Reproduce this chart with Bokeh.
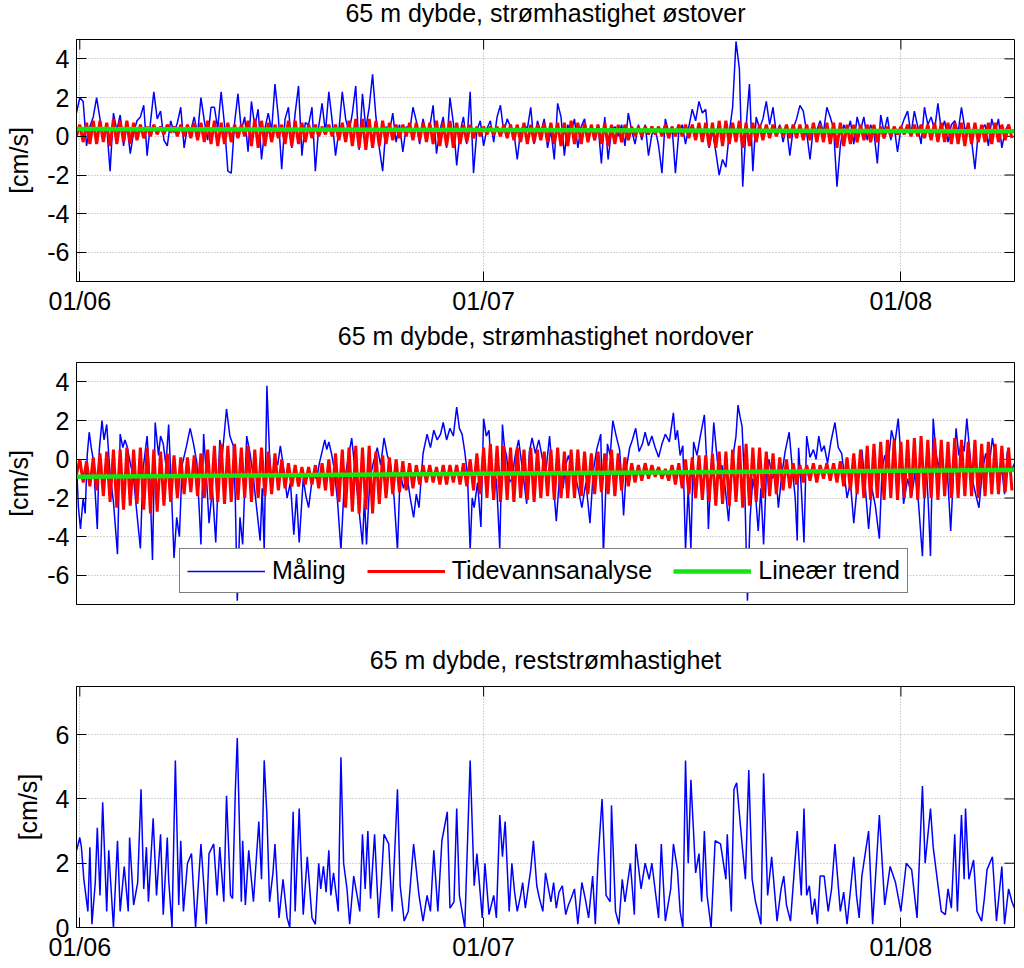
import numpy as np
from bokeh.plotting import figure
from bokeh.layouts import column
from bokeh.models import Range1d, FixedTicker, DatetimeTickFormatter, Legend, LegendItem
from bokeh.embed import file_html
from bokeh.resources import INLINE

FONT = "Liberation Sans"

# ---------------- text / categories ----------------
titles = ["65 m dybde, strømhastighet østover",
          "65 m dybde, strømhastighet nordover",
          "65 m dybde, reststrømhastighet"]
y_label = "[cm/s]"
legend_labels = ["Måling", "Tidevannsanalyse", "Lineær trend"]
date_ticks = ["2010-06-01", "2010-07-01", "2010-08-01"]
uv_ticks = [-6, -4, -2, 0, 2, 4]
res_ticks = [0, 2, 4, 6]

# time axis (days after 01/06)
x_start_day, x_end_day = -0.245, 69.44
grid_start_day, grid_step_days = -0.25, 0.25   # 6-hourly sampling grid

# ---------------- panel 1: eastward ----------------
east_meas = [1.2,
    2.0, 1.8, -0.5, 0.5,   1.0, 2.0, 0.9, -0.2,   0.5, -1.8, 1.2, 0.3,   1.1, -0.5, 0.6, -0.9,
    0.2, 0.8, 1.0, 1.6,   -1.0, 0.7, 2.3, 0.9,    1.3, -0.2, -0.5, 0.8,  0.2, 0.7, 1.5, -0.6,
    0.5, 0.3, 1.0, 0.1,    2.0, 0.8, -0.2, 1.5,   1.5, 0.4, 2.3, 0.6,   -1.8, -1.9, 0.7, 2.2,
    0.3, 1.0, -0.8, 1.8,   0.5, 1.4, -1.2, 0.4,   1.2, 0.3, 2.7, 1.0,   -1.7, 0.9, 1.5, -0.6,
    1.2, 2.6, -1.0, 0.7,   0.6, 1.5, -1.8, 0.5,   1.7, 0.2, 2.3, 0.8,   -1.0, 0.3, 2.3, 0.9,
    0.2, 1.2, 2.6, -0.7,   2.2, 0.4, 1.5, 3.2,    1.0, -0.6, -1.8, 0.5,  0.2, 1.2, -0.3, 0.6,
    -0.8, 0.5, 0.2, 1.5,   0.8, -0.4, 0.9, 0.1,   0.5, 1.6, -0.9, 0.3,   1.0, -0.6, 2.0, 0.7,
    -1.5, 0.2, 1.0, -0.4,  2.3, -1.9, 0.3, 0.8,   -0.5, 0.4, 0.8, -0.3,  1.0, 1.6, 0.2, 0.9,
    0.5, 0.2, -1.2, 0.3,   0.6, 0.4, 1.5, -0.4,   0.8, 0.2, 0.9, -0.6,   0.3, -1.2, 1.7, 1.0,
    -1.0, 0.6, 0.2, 0.9,   -0.6, 0.5, 0.9, -0.3,  0.4, -0.2, 0.6, -1.4,  1.0, -1.2, 0.3, 0.5,
    0.0, 0.6, -0.5, 1.2,   0.3, -0.4, 0.6, -0.2,  0.6, -1.0, 0.1, 0.4,   -0.5, -1.9, 0.9, 0.2,
    0.5, -1.9, 0.2, 0.6,   -0.4, 0.5, 1.4, 0.8,   1.8, 1.2, 1.4, -0.6,   0.3, -0.8, -2.0, -1.2,
    -1.6, 0.2, 1.5, 4.9,   3.5, -2.6, 0.5, 2.7,   -1.8, 1.0, 0.4, 0.9,   1.8, 0.6, 1.5, 0.1,
    0.6, -0.3, 0.5, -1.0,  0.4, 0.9, 1.6, 1.3,    0.2, -1.2, 0.5, 0.3,   0.8, 0.2, 1.5, 1.0,
    0.4, -2.6, -0.5, 0.6,  0.2, 0.8, -0.4, 1.0,   0.3, 1.0, -0.2, 0.6,   0.2, -1.4, 1.1, 0.2,
    1.0, -0.2, 0.5, -0.8,  0.4, 0.9, 1.3, 0.1,    1.3, 0.5, -0.4, 1.5,   0.6, 1.0, 0.3, 1.7,
    0.3, 0.8, -0.3, 0.6,   0.8, 0.2, 1.5, 0.4,    0.4, -0.2, -1.7, 0.2,  0.4, 0.6, -0.5, 0.9,
    0.2, 0.9, -0.6, 0.3,
    0.6, 0.2]

east_tide = [0.0,
    0.6, -0.3, 0.7, -0.4,  0.8, -0.4, 0.8, -0.3,   0.7, -0.5, 0.9, -0.4,  0.8, -0.3, 0.8, -0.4,
    0.7, -0.2, 0.6, -0.1,  0.5, 0.0, 0.6, 0.1,     0.5, 0.1, 0.6, 0.2,    0.5, 0.0, 0.6, 0.0,
    0.6, -0.1, 0.7, -0.2,  0.7, -0.3, 0.8, -0.4,   0.8, -0.5, 0.7, -0.4,  0.7, -0.3, 0.6, -0.1,
    0.6, 0.0, 0.8, -0.5,   0.9, -0.6, 0.8, -0.5,   0.7, -0.3, 0.6, -0.1,  0.6, -0.4, 0.8, -0.5,
    0.8, -0.4, 0.7, -0.3,  0.6, -0.1, 0.6, 0.0,    0.5, 0.1, 0.6, 0.0,    0.6, -0.2, 0.7, -0.3,
    0.8, -0.5, 0.9, -0.6,  0.9, -0.7, 0.9, -0.6,   0.8, -0.5, 0.8, -0.4,  0.7, -0.2, 0.6, -0.1,
    0.6, 0.0, 0.7, -0.2,   0.7, -0.2, 0.7, -0.3,   0.7, -0.4, 0.8, -0.5,  0.7, -0.5, 0.8, -0.6,
    0.7, -0.4, 0.6, -0.3,  0.6, -0.1, 0.5, 0.0,    0.5, 0.1, 0.5, 0.1,    0.5, 0.0, 0.6, -0.1,
    0.6, -0.2, 0.6, -0.3,  0.7, -0.4, 0.6, -0.3,   0.6, -0.2, 0.7, -0.3,  0.7, -0.4, 0.7, -0.5,
    0.7, -0.5, 0.8, -0.4,  0.7, -0.4, 0.7, -0.3,   0.6, -0.2, 0.6, -0.4,  0.7, -0.5, 0.6, -0.4,
    0.6, -0.3, 0.6, -0.2,  0.5, 0.0, 0.5, 0.0,     0.5, 0.1, 0.5, 0.1,    0.5, 0.0, 0.6, -0.1,
    0.5, 0.0, 0.6, 0.0,    0.6, -0.1, 0.6, -0.2,   0.7, -0.3, 0.7, -0.5,  0.7, -0.6, 0.8, -0.5,
    0.8, -0.4, 0.7, -0.3,  0.8, -0.6, 0.7, -0.5,   0.7, -0.3, 0.6, -0.2,  0.6, -0.1, 0.6, 0.0,
    0.5, 0.0, 0.6, -0.1,   0.6, -0.1, 0.6, -0.2,   0.6, -0.2, 0.7, -0.3,  0.6, -0.3, 0.7, -0.4,
    0.7, -0.6, 0.7, -0.5,  0.6, -0.4, 0.6, -0.3,   0.6, -0.2, 0.6, -0.3,  0.6, -0.3, 0.5, -0.1,
    0.5, 0.0, 0.5, 0.1,    0.5, 0.1, 0.6, 0.0,     0.6, 0.0, 0.6, -0.1,   0.6, -0.2, 0.7, -0.3,
    0.7, -0.3, 0.7, -0.4,  0.7, -0.4, 0.7, -0.5,   0.7, -0.4, 0.7, -0.3,  0.6, -0.3, 0.7, -0.4,
    0.7, -0.3, 0.6, -0.2,
    0.6, -0.1]

east_trend = [0.38, 0.26]   # value at left and right edge

# ---------------- panel 2: northward ----------------
north_meas = [  # (day after 01/06, cm/s)
    (-0.24, -0.3), (-0.1, -2.5), (0.05, -3.6), (0.25, -2.0), (0.4, -2.8), (0.55, 0.2), (0.7, 1.4),
    (0.85, 0.6), (1.0, 0.0), (1.15, -1.8), (1.3, -3.6), (1.45, 0.5), (1.65, 2.0), (1.8, 1.0),
    (2.0, 1.8), (2.25, -0.8), (2.5, -2.2), (2.8, -4.9), (3.0, 1.3), (3.2, 0.6), (3.35, 1.0),
    (3.5, 0.7), (3.75, -0.2), (4.0, -1.0), (4.2, -2.5), (4.5, -4.6), (4.7, -0.5), (5.0, 1.2),
    (5.2, -1.0), (5.4, -5.2), (5.6, 1.9), (5.85, 0.2), (6.0, 1.2), (6.2, 0.8), (6.4, -0.3),
    (6.6, 1.8), (6.8, -1.5), (7.0, -5.1), (7.2, -3.0), (7.4, -4.0), (7.6, -0.3), (7.9, 0.6),
    (8.2, 1.6), (8.45, 0.8), (8.7, -0.2), (9.0, -4.4), (9.2, 1.3), (9.4, -0.8), (9.6, -3.3),
    (9.85, -1.5), (10.1, -4.3), (10.4, 1.0), (10.6, 0.3), (10.9, 2.6), (11.15, 1.2), (11.4, 0.7),
    (11.55, -2.0), (11.7, -7.3), (11.9, -3.0), (12.1, -4.4), (12.4, 1.2), (12.65, 0.3),
    (12.9, -1.0), (13.15, -2.6), (13.4, -4.2), (13.55, -1.5), (13.7, -4.7), (13.9, 3.8),
    (14.1, 0.2), (14.3, -1.5), (14.5, 0.1), (14.7, -0.3), (14.9, 0.7), (15.15, -0.5),
    (15.4, -2.0), (15.65, -1.2), (15.9, -3.9), (16.1, -1.8), (16.3, -4.3), (16.6, -1.0),
    (16.8, -1.9), (17.0, -2.5), (17.3, -0.8), (17.6, -1.0), (17.8, -0.2), (18.0, 0.4),
    (18.2, 1.0), (18.35, 0.5), (18.5, 0.9), (18.7, 0.3), (18.9, -0.5), (19.15, -2.2),
    (19.4, -4.7), (19.65, -1.2), (19.9, -0.1), (20.2, 1.1), (20.45, -0.6), (20.7, -2.3),
    (21.0, -4.4), (21.15, -2.0), (21.3, -4.4), (21.55, -1.0), (21.8, -0.2), (22.1, 0.6),
    (22.35, -0.3), (22.6, 1.1), (22.85, 0.2), (23.1, -0.3), (23.35, -2.0), (23.6, -4.7),
    (23.8, -0.7), (24.05, -1.5), (24.3, -0.8), (24.55, -2.0), (24.8, -3.0), (25.0, -1.8),
    (25.2, -2.5), (25.5, 0.3), (25.8, 1.3), (26.05, 0.6), (26.3, 1.5), (26.55, 1.0),
    (26.8, 1.3), (27.0, 1.9), (27.25, 1.0), (27.5, 1.6), (27.75, 1.2), (28.0, 2.7), (28.2, 1.6),
    (28.4, 1.3), (28.6, 0.4), (28.8, -0.8), (29.0, -4.7), (29.15, -2.0), (29.3, -2.5),
    (29.55, -1.2), (29.8, -3.5), (30.0, 2.1), (30.2, 1.2), (30.4, 1.5), (30.55, -0.4),
    (30.7, -2.0), (30.95, -1.0), (31.2, -4.6), (31.4, 1.8), (31.55, 0.6), (31.7, 0.2),
    (31.9, -1.2), (32.1, -1.0), (32.35, 0.2), (32.6, 1.0), (32.9, -0.6), (33.2, -2.3),
    (33.4, 0.4), (33.6, 1.1), (33.85, 0.3), (34.1, 1.0), (34.35, 0.1), (34.6, -0.8), (34.9, 1.2),
    (35.15, -1.0), (35.4, -3.2), (35.65, -0.8), (35.9, -1.5), (36.1, -0.3), (36.3, 0.2),
    (36.55, -0.5), (36.8, -0.8), (37.05, -1.6), (37.3, -2.5), (37.6, -1.2), (37.9, -3.3),
    (38.15, -0.6), (38.4, 0.5), (38.7, 1.3), (38.9, -4.9), (39.2, 0.8), (39.4, 0.2), (39.6, 2.0),
    (39.85, 1.2), (40.1, 0.5), (40.25, -1.0), (40.4, -2.9), (40.6, -0.5), (40.85, 0.6),
    (41.05, 1.0), (41.3, 1.6), (41.55, 0.4), (41.8, 0.8), (42.0, 1.4), (42.25, 0.7), (42.5, 1.2),
    (42.75, 0.6), (43.0, 0.1), (43.25, 0.8), (43.5, 1.3), (43.8, 0.9), (44.1, 2.4), (44.25, 1.0),
    (44.4, 1.5), (44.6, 0.2), (44.8, 0.7), (45.0, -4.7), (45.2, -1.5), (45.4, -4.6), (45.6, 0.9),
    (45.85, 0.2), (46.1, 1.2), (46.4, 2.3), (46.55, 0.2), (46.7, -3.6), (46.9, -0.5), (47.1, 1.9),
    (47.3, 0.4), (47.5, -1.0), (47.7, -0.3), (47.95, -1.5), (48.2, -3.2), (48.4, -1.0),
    (48.6, 0.5), (48.75, 1.2), (48.9, 2.8), (49.05, 2.2), (49.2, 1.7), (49.4, -1.5), (49.6, -7.3),
    (49.8, -3.0), (50.0, -1.0), (50.2, -1.8), (50.4, -3.7), (50.6, -1.5), (50.8, -4.4),
    (51.0, -0.8), (51.2, 0.0), (51.45, -1.0), (51.7, -0.6), (51.9, -2.5), (52.15, -0.8),
    (52.4, 0.4), (52.7, 1.4), (52.95, -0.6), (53.15, -2.0), (53.3, -4.2), (53.4, 0.6),
    (53.6, -1.5), (53.8, -4.3), (54.0, 1.2), (54.25, 0.1), (54.5, 0.5), (54.7, 0.0), (54.9, 1.2),
    (55.1, 0.4), (55.3, 0.7), (55.55, -0.2), (55.8, 0.9), (56.1, 1.9), (56.35, 0.6), (56.6, 0.3),
    (56.8, -0.8), (57.0, -2.0), (57.25, -1.2), (57.5, -3.3), (57.8, -1.0), (58.1, 0.5),
    (58.35, -1.4), (58.6, -3.6), (58.85, -1.5), (59.1, -2.4), (59.4, -4.1), (59.6, -0.5),
    (59.8, 0.2), (60.05, -0.3), (60.3, 1.5), (60.55, 0.8), (60.8, 2.1), (61.0, 0.2), (61.2, -2.3),
    (61.5, -1.0), (61.8, -1.9), (62.05, -0.7), (62.3, -2.2), (62.6, -5.0), (62.75, -2.0),
    (62.9, -0.5), (63.05, -2.5), (63.2, -5.0), (63.4, 2.1), (63.6, 0.4), (63.8, -0.5), (64.0, 0.6),
    (64.2, -1.2), (64.45, -0.6), (64.7, -3.7), (64.9, -0.8), (65.1, 1.6), (65.3, 0.2), (65.5, 0.9),
    (65.7, 0.4), (65.9, 2.1), (66.1, 0.5), (66.3, -1.0), (66.55, -1.8), (66.8, -2.5),
    (67.05, -0.6), (67.3, 0.3), (67.55, -0.4), (67.8, 1.1), (68.05, 0.0), (68.3, -1.0),
    (68.5, -0.5), (68.7, -1.8), (68.9, 0.4), (69.1, -0.2), (69.2, -0.6), (69.44, -0.2)]

north_tide = [-0.8,
    0.0, -1.2, -0.1, -1.4,   0.1, -1.6, 0.3, -1.9,    0.4, -2.2, 0.5, -2.5,    0.5, -2.6, 0.6, -2.4,
    0.5, -2.3, 0.6, -2.6,    0.6, -2.8, 0.5, -2.7,    0.4, -2.4, 0.3, -2.2,    0.2, -2.0, 0.1, -1.8,
    0.1, -1.7, 0.2, -1.9,    0.3, -2.0, 0.5, -2.1,    0.7, -2.2, 0.8, -2.3,    0.7, -2.2, 0.8, -2.1,
    0.6, -2.0, 0.7, -2.2,    0.5, -2.0, 0.6, -1.9,    0.4, -1.8, 0.3, -1.6,    0.0, -1.5, -0.2, -1.4,
    -0.3, -1.4, -0.4, -1.3,  -0.4, -1.3, -0.3, -1.5,  -0.2, -1.6, 0.0, -1.9,   0.3, -2.2, 0.5, -2.5,
    0.6, -2.7, 0.7, -2.8,    0.6, -2.6, 0.7, -2.8,    0.4, -2.3, 0.2, -2.0,    0.1, -1.8, 0.0, -1.7,
    -0.1, -1.6, -0.2, -1.5,  -0.3, -1.3, -0.3, -1.2,  -0.3, -1.2, -0.4, -1.3,  -0.3, -1.3, -0.3, -1.2,
    -0.3, -1.3, -0.2, -1.4,  0.0, -1.6, 0.3, -1.8,    0.6, -2.0, 0.8, -2.1,    0.7, -2.2, 0.7, -2.1,
    0.6, -2.2, 0.6, -2.0,    0.5, -2.1, 0.6, -2.2,    0.5, -2.0, 0.4, -1.9,    0.5, -2.1, 0.6, -2.0,
    0.4, -2.0, 0.5, -2.0,    0.5, -1.9, 0.4, -1.8,    0.3, -1.8, 0.4, -1.7,    0.3, -1.8, 0.5, -1.9,
    0.3, -1.6, 0.1, -1.4,    -0.2, -1.2, -0.3, -1.1,  -0.2, -1.0, -0.3, -0.9,  -0.4, -1.0, -0.5, -1.1,
    -0.3, -1.3, -0.2, -1.5,  0.0, -1.8, 0.1, -2.0,    0.2, -2.1, 0.2, -2.2,    0.3, -2.4, 0.4, -2.3,
    0.4, -2.4, 0.5, -2.2,    0.7, -2.5, 0.8, -2.4,    0.6, -2.2, 0.6, -2.0,    0.4, -1.9, 0.3, -1.8,
    0.1, -1.6, 0.0, -1.5,    -0.2, -1.3, -0.3, -1.2,  -0.3, -1.1, -0.2, -1.2,  -0.3, -1.0, -0.2, -1.1,
    -0.2, -1.2, -0.1, -1.4,  0.1, -1.6, 0.3, -1.8,    0.5, -2.0, 0.7, -2.1,    0.8, -2.0, 0.9, -2.1,
    1.0, -2.0, 1.0, -2.1,    0.9, -2.0, 1.0, -2.0,    1.1, -2.1, 1.2, -2.0,    1.0, -2.0, 1.1, -2.1,
    1.0, -1.9, 0.9, -2.0,    1.1, -2.0, 1.0, -1.9,    0.9, -1.9, 1.0, -2.0,    0.8, -1.9, 0.9, -1.8,
    0.8, -1.8, 0.7, -1.7,
    0.6, -1.6]

north_trend = [-0.90, -0.55]

# ---------------- panel 3: residual speed ----------------
resid_meas = [  # (day after 01/06, cm/s)
    (-0.24, 2.4), (0.0, 2.8), (0.12, 2.5), (0.3, 1.5), (0.6, 0.5), (0.75, 2.5), (0.9, 0.1),
    (1.15, 1.4), (1.3, 3.1), (1.5, 1.0), (1.7, 3.9), (2.0, 0.5), (2.15, 2.4), (2.5, 0.0),
    (2.8, 2.7), (3.0, 0.5), (3.3, 1.9), (3.6, 0.5), (3.7, 2.8), (4.0, 0.7), (4.3, 1.4),
    (4.55, 4.3), (4.75, 1.2), (4.95, 2.5), (5.1, 0.8), (5.45, 3.4), (5.7, 1.0), (6.0, 2.9),
    (6.2, 0.4), (6.5, 2.8), (6.6, 1.5), (6.85, 0.0), (7.1, 5.2), (7.35, 0.7), (7.5, 2.7),
    (7.7, 0.5), (8.0, 2.0), (8.3, 2.3), (8.6, 0.0), (9.0, 2.6), (9.2, 1.4), (9.4, 0.1), (9.6, 2.3),
    (9.95, 2.6), (10.2, 1.0), (10.4, 2.5), (10.7, 0.8), (10.9, 4.1), (11.2, 1.0), (11.35, 0.9),
    (11.55, 4.2), (11.7, 5.9), (12.0, 0.8), (12.1, 2.7), (12.3, 0.7), (12.55, 2.4), (12.9, 0.8),
    (13.3, 3.3), (13.5, 1.5), (13.7, 5.2), (13.9, 3.5), (14.1, 0.8), (14.35, 1.7), (14.5, 2.6),
    (14.8, 0.3), (15.1, 1.5), (15.4, 0.3), (15.6, 0.0), (15.85, 3.6), (16.0, 0.5), (16.3, 3.7),
    (16.6, 0.4), (16.9, 2.2), (17.25, 0.3), (17.5, 0.1), (17.75, 2.0), (17.9, 1.2), (18.1, 1.9),
    (18.3, 1.1), (18.5, 2.4), (18.65, 1.0), (18.85, 1.7), (19.2, 0.5), (19.4, 5.3), (19.6, 2.0),
    (19.85, 1.2), (20.05, 0.1), (20.35, 1.6), (20.6, 1.0), (20.8, 0.5), (21.0, 2.9), (21.2, 1.2),
    (21.4, 3.0), (21.6, 0.9), (21.9, 2.9), (22.2, 0.3), (22.4, 1.4), (22.6, 2.9), (22.95, 2.6),
    (23.2, 0.5), (23.6, 4.3), (23.8, 1.3), (24.1, 0.2), (24.4, 0.5), (24.8, 2.6), (25.2, 1.0),
    (25.5, 0.2), (25.8, 1.0), (26.05, 0.5), (26.3, 2.4), (26.6, 0.5), (26.9, 2.7), (27.3, 3.6),
    (27.5, 0.6), (27.8, 0.8), (28.0, 3.7), (28.2, 1.0), (28.6, 0.0), (29.0, 5.2), (29.3, 1.3),
    (29.5, 2.3), (29.9, 0.3), (30.1, 2.0), (30.4, 0.4), (30.75, 1.0), (30.95, 0.3), (31.2, 3.5),
    (31.4, 2.2), (31.6, 3.3), (31.9, 0.5), (32.1, 2.0), (32.3, 1.1), (32.5, 0.5), (32.75, 1.0),
    (32.9, 1.4), (33.1, 0.6), (33.5, 1.8), (33.7, 2.7), (33.95, 1.3), (34.15, 0.9), (34.4, 0.5),
    (34.6, 1.7), (35.0, 0.8), (35.2, 1.4), (35.4, 0.6), (35.6, 1.1), (35.85, 1.3), (36.1, 0.4),
    (36.3, 0.7), (36.5, 0.9), (36.75, 1.2), (37.0, 0.1), (37.3, 1.4), (37.55, 0.9), (37.8, 0.3),
    (38.1, 1.6), (38.3, 0.1), (38.5, 2.1), (38.8, 4.0), (39.1, 1.0), (39.4, 0.8), (39.5, 3.8),
    (39.8, 0.5), (40.05, 0.1), (40.3, 1.5), (40.5, 0.8), (40.9, 2.0), (41.2, 0.4), (41.3, 2.6),
    (41.7, 1.2), (42.0, 2.0), (42.3, 1.5), (42.5, 2.0), (43.0, 0.3), (43.2, 2.6), (43.5, 0.2),
    (43.9, 1.2), (44.1, 2.6), (44.4, 1.8), (44.6, 0.5), (44.8, 0.0), (45.0, 5.2), (45.2, 2.0),
    (45.4, 4.6), (45.75, 1.7), (46.0, 2.3), (46.2, 0.8), (46.4, 3.0), (46.6, 1.0), (46.9, 0.0),
    (47.2, 2.7), (47.6, 2.6), (48.0, 1.5), (48.1, 2.9), (48.4, 0.5), (48.6, 4.3), (48.8, 4.5),
    (49.2, 2.6), (49.45, 1.5), (49.7, 4.9), (49.95, 1.5), (50.2, 0.8), (50.6, 0.1), (50.8, 4.8),
    (51.1, 1.0), (51.4, 2.2), (51.8, 0.2), (52.1, 1.2), (52.3, 1.6), (52.5, 0.7), (52.8, 0.2),
    (53.3, 3.0), (53.6, 1.0), (53.8, 3.7), (54.0, 1.0), (54.2, 1.3), (54.4, 0.4), (54.6, 0.9),
    (54.8, 0.1), (55.0, 1.6), (55.3, 1.6), (55.6, 0.5), (55.85, 1.2), (56.1, 2.6), (56.5, 0.5),
    (56.75, 1.1), (57.0, 0.1), (57.5, 2.2), (57.7, 1.0), (57.9, 0.3), (58.1, 1.6), (58.6, 3.0),
    (58.9, 0.1), (59.4, 3.5), (59.8, 0.7), (60.2, 1.9), (60.6, 1.4), (61.0, 0.5), (61.4, 2.0),
    (61.8, 1.8), (62.2, 0.3), (62.6, 4.4), (62.8, 2.0), (63.2, 3.7), (63.4, 2.5), (63.7, 1.5),
    (64.0, 0.5), (64.3, 0.4), (64.5, 1.2), (64.75, 0.6), (65.0, 2.9), (65.2, 0.5), (65.5, 3.5),
    (65.7, 1.5), (65.8, 3.7), (66.05, 1.5), (66.4, 2.1), (66.65, 0.5), (67.0, 0.2), (67.2, 0.9),
    (67.4, 1.8), (67.8, 2.2), (68.1, 0.2), (68.5, 1.9), (68.7, 0.1), (69.0, 1.2), (69.25, 0.8),
    (69.44, 0.6)]

# ---------------- geometry (pixels) ----------------
FRAME_W = 938
BORDER_L, BORDER_R = 90, 2
BORDER_T = 66               # room for the title; figures overlap (transparent borders)
TICK_PX = 10
# page y of each plot frame's top edge, frame heights and bottom borders
FRAME_TOPS = [39, 362, 686]
FRAME_HS = [242, 242, 241]
BORDER_BS = [37, 38, 37]

# ---------------- helpers ----------------
BASE_MS = float(np.datetime64("2010-06-01T00:00", "ms").astype("int64"))
DAY_MS = 86400000.0


def to_ms(days):
    return BASE_MS + np.asarray(days, dtype=float) * DAY_MS


def grid_days(series):
    return grid_start_day + grid_step_days * np.arange(len(series))


X0, X1 = float(to_ms(x_start_day)), float(to_ms(x_end_day))
tick_ms = [float(np.datetime64(d, "ms").astype("int64")) for d in date_ticks]
date_fmt = DatetimeTickFormatter(milliseconds="%d/%m", seconds="%d/%m", minsec="%d/%m",
                                 minutes="%d/%m", hourmin="%d/%m", hours="%d/%m",
                                 days="%d/%m", months="%d/%m", years="%d/%m")
GRID_COLOR = "#a8a8a8"
BLUE, RED, GREEN = "#0000ff", "#ff0000", "#12e612"


def style_axis(ax):
    ax.major_tick_in = TICK_PX
    ax.major_tick_out = 0
    ax.minor_tick_line_color = None
    ax.axis_line_color = "black"
    ax.major_tick_line_color = "black"
    ax.major_label_text_font = FONT
    ax.major_label_text_font_size = "25px"
    ax.major_label_text_color = "black"


def make_fig(idx, title, yr, yticks, dates, ylabel_standoff):
    frame_h = FRAME_HS[idx]
    if idx == 0:
        top_margin = FRAME_TOPS[0] - BORDER_T
    else:
        prev_bottom = FRAME_TOPS[idx - 1] + FRAME_HS[idx - 1] + BORDER_BS[idx - 1]
        top_margin = FRAME_TOPS[idx] - BORDER_T - prev_bottom
    p = figure(width=BORDER_L + FRAME_W + BORDER_R, height=BORDER_T + frame_h + BORDER_BS[idx],
               title=title,
               x_axis_type="datetime", x_axis_location="below" if dates else None,
               x_range=Range1d(X0, X1), y_range=Range1d(*yr),
               output_backend="svg", toolbar_location=None,
               min_border_left=BORDER_L, min_border_right=BORDER_R,
               min_border_top=BORDER_T, min_border_bottom=BORDER_BS[idx],
               margin=(top_margin, 0, 0, 0))
    p.title.align = "center"
    p.title.text_font = FONT
    p.title.text_font_size = "25px"
    p.title.text_font_style = "normal"
    p.title.text_color = "black"
    p.title.standoff = 26
    p.outline_line_color = "black"
    p.outline_line_width = 1
    p.background_fill_color = "white"
    p.border_fill_alpha = 0.0

    yt = FixedTicker(ticks=yticks)
    p.yaxis.ticker = yt
    p.ygrid.ticker = yt
    style_axis(p.yaxis[0])
    # plain hyphen-minus labels, as in the reference
    p.yaxis.major_label_overrides = {t: str(t) for t in yticks}
    p.yaxis.major_label_standoff = 7
    p.yaxis.axis_label = y_label
    p.yaxis.axis_label_text_font = FONT
    p.yaxis.axis_label_text_font_size = "25px"
    p.yaxis.axis_label_text_font_style = "normal"
    p.yaxis.axis_label_text_color = "black"
    p.yaxis.axis_label_standoff = ylabel_standoff
    p.ygrid.grid_line_color = GRID_COLOR
    p.ygrid.grid_line_dash = "1 2"

    # inward tick marks on the right edge (mirror of the y ticks)
    dx = TICK_PX * (X1 - X0) / FRAME_W
    p.segment(x0=[X1 - dx] * len(yticks), y0=yticks, x1=[X1] * len(yticks), y1=yticks,
              line_color="black", line_width=1)

    if dates:
        xt = FixedTicker(ticks=tick_ms)
        p.xaxis.ticker = xt
        p.xgrid.ticker = xt
        p.xaxis.formatter = date_fmt
        style_axis(p.xaxis[0])
        p.xaxis.major_label_standoff = 5
        p.xgrid.grid_line_color = GRID_COLOR
        p.xgrid.grid_line_dash = "1 2"
        dy = TICK_PX * (yr[1] - yr[0]) / frame_h
        p.segment(x0=tick_ms, y0=[yr[1] - dy] * len(tick_ms), x1=tick_ms,
                  y1=[yr[1]] * len(tick_ms), line_color="black", line_width=1)
    else:
        p.xgrid.visible = False
    return p


# ---------------- panel 1 ----------------
f1 = make_fig(0, titles[0], (-7.5, 5), uv_ticks, True, 11)
f1.line(to_ms(grid_days(east_meas)), east_meas, color=BLUE, line_width=1.5)
f1.line(to_ms(grid_days(east_tide)), east_tide, color=RED, line_width=3)
f1.line(to_ms([x_start_day, x_end_day]), east_trend, color=GREEN, line_width=4.5)

# ---------------- panel 2 ----------------
f2 = make_fig(1, titles[1], (-7.5, 5), uv_ticks, False, 11)
nd = [d for d, v in north_meas]
nv = [v for d, v in north_meas]
r_meas = f2.line(to_ms(nd), nv, color=BLUE, line_width=1.5)
r_tide = f2.line(to_ms(grid_days(north_tide)), north_tide, color=RED, line_width=3)
r_trend = f2.line(to_ms([x_start_day, x_end_day]), north_trend, color=GREEN, line_width=4.5)
legend = Legend(items=[LegendItem(label=legend_labels[0], renderers=[r_meas]),
                       LegendItem(label=legend_labels[1], renderers=[r_tide]),
                       LegendItem(label=legend_labels[2], renderers=[r_trend])],
                orientation="horizontal", location=(103, 11),
                label_text_font=FONT, label_text_font_size="25px", label_text_color="black",
                glyph_width=78, glyph_height=20, label_standoff=7, spacing=21,
                padding=7, margin=0, border_line_color="black", border_line_width=1,
                background_fill_color="white", background_fill_alpha=1.0)
f2.add_layout(legend)

# ---------------- panel 3 ----------------
f3 = make_fig(2, titles[2], (0, 7.5), res_ticks, True, 11)
rd = [d for d, v in resid_meas]
rv = [v for d, v in resid_meas]
f3.line(to_ms(rd), rv, color=BLUE, line_width=1.5)

layout = column(f1, f2, f3, margin=(0, 0, 0, 76 - BORDER_L))
open("out.html", "w").write(file_html(layout, INLINE))
